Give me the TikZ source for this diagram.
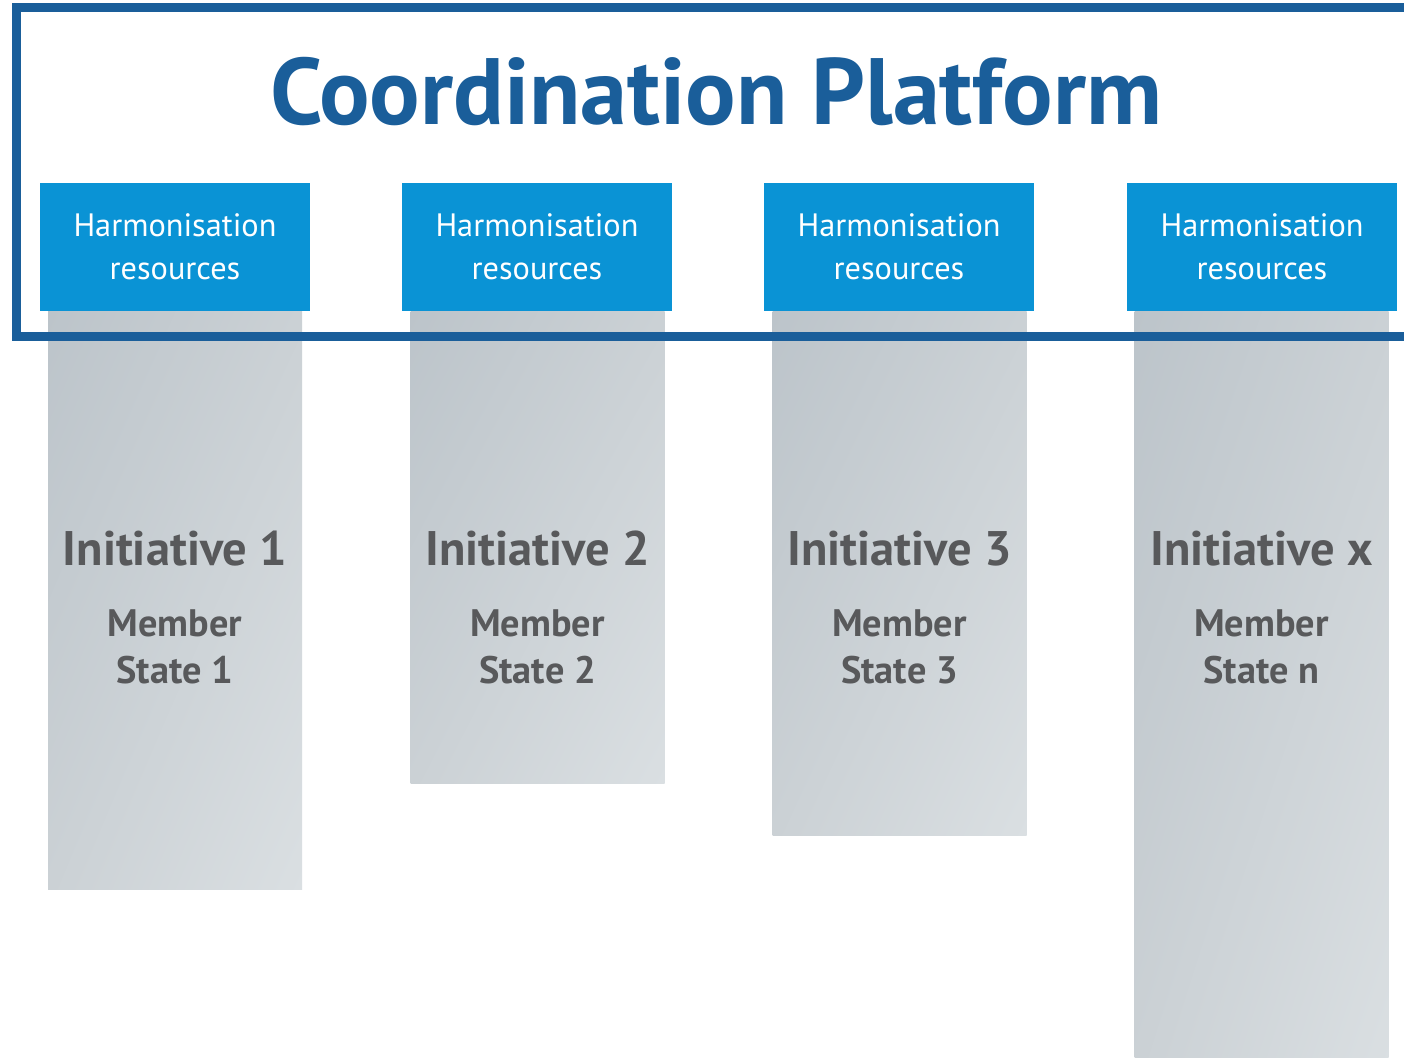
\documentclass[tikz,border=0pt]{standalone}
\usepackage{fontspec}
\setmainfont{PT Sans}
\usetikzlibrary{positioning,shadings}
\definecolor{platformblue}{HTML}{1A5E9A}
\definecolor{resblue}{HTML}{0A93D5}
\definecolor{colgreyA}{HTML}{BCC4CA}
\definecolor{colgreyB}{HTML}{DADFE2}
\definecolor{colgreyM}{HTML}{CBD1D5}
\definecolor{inittext}{HTML}{58595B}
\tikzset{
  resbox/.style={fill=resblue,text=white,minimum width=2.7cm,minimum height=1.28cm,inner sep=0pt,align=center,font=\fontsize{9.2}{12.2}\selectfont},
  column/.style={anchor=north,minimum width=2.54cm,inner sep=0pt,upper left=colgreyA,lower right=colgreyB,upper right=colgreyM,lower left=colgreyM},
  inittitle/.style={text=inittext,font=\fontsize{13.8}{16}\selectfont\bfseries},
  statename/.style={text=inittext,align=center,font=\fontsize{10.9}{13.4}\selectfont\bfseries}
}
\begin{document}
\begin{tikzpicture}
\useasboundingbox (0,0) rectangle (14.04,-10.57);
\clip (0,0) rectangle (14.04,-10.57);
\fill[white] (0,0) rectangle (14.04,-10.57);
% grey columns
\node[column,minimum height=5.78cm] (col1) at (1.75,-3.11) {};
\node[column,minimum height=4.72cm] (col2) at (5.375,-3.11) {};
\node[column,minimum height=5.24cm] (col3) at (8.995,-3.11) {};
\node[column,minimum height=7.6cm] (col4) at (12.615,-3.11) {};
% platform frame
\draw[platformblue,line width=0.09cm] (14.3,-3.36) -- (0.16,-3.36) -- (0.16,-0.08) -- (14.3,-0.08);
\node[text=platformblue,font=\fontsize{26.8}{30}\selectfont\bfseries] (title) at (7.16,-0.92) {Coordination Platform};
% harmonisation resources
\node[resbox] (res1) at (1.75,-2.47) {Harmonisation\\resources};
\node[resbox] (res2) at (5.37,-2.47) {Harmonisation\\resources};
\node[resbox] (res3) at (8.99,-2.47) {Harmonisation\\resources};
\node[resbox] (res4) at (12.62,-2.47) {Harmonisation\\resources};
% initiatives
\node[inittitle] (init1) at (1.75,-5.49) {Initiative 1};
\node[inittitle] (init2) at (5.375,-5.49) {Initiative 2};
\node[inittitle] (init3) at (8.995,-5.49) {Initiative 3};
\node[inittitle] (init4) at (12.615,-5.49) {Initiative x};
\node[statename] (ms1) at (1.75,-6.47) {Member\\State 1};
\node[statename] (ms2) at (5.375,-6.47) {Member\\State 2};
\node[statename] (ms3) at (8.995,-6.47) {Member\\State 3};
\node[statename] (ms4) at (12.615,-6.47) {Member\\State n};
\end{tikzpicture}
\end{document}
